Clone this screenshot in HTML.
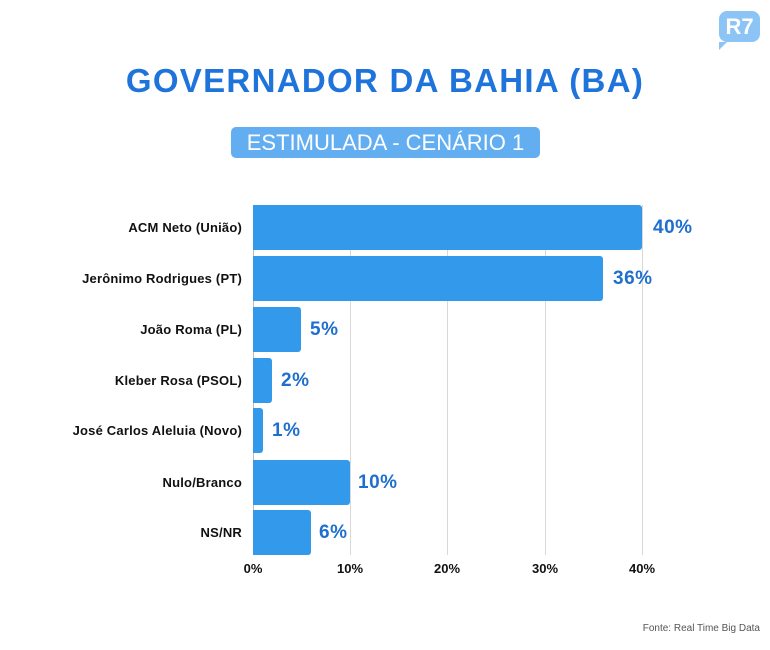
<!DOCTYPE html>
<html><head><meta charset="utf-8"><style>
body{margin:0;width:770px;height:650px;background:#fff;position:relative;overflow:hidden;font-family:"Liberation Sans",sans-serif}
.t{position:absolute;left:0;width:770px;text-align:center;top:62px;font-size:33px;font-weight:bold;color:#1f74dc;letter-spacing:1.3px}
.s{position:absolute;left:231px;top:127px;width:309px;height:31px;background:#62aef0;border-radius:5px;color:#fff;font-size:22px;text-align:center;line-height:31px}
.g{position:absolute;top:205px;height:350px;width:1px;background:#d8d8d8}
.b{position:absolute;left:253px;height:45px;background:#3399eb;border-radius:0 3px 3px 0}
.l{position:absolute;right:528px;font-size:13px;font-weight:bold;color:#111;height:45px;line-height:45px;white-space:nowrap;letter-spacing:0.2px}
.v{position:absolute;font-size:19px;font-weight:bold;color:#1f6fcf;height:45px;line-height:45px;letter-spacing:0.5px}
.x{position:absolute;top:561px;font-size:13px;font-weight:bold;color:#111;width:40px;text-align:center}
.logo{position:absolute;left:719px;top:11px;width:41px;height:31px;background:#8cc5f5;border-radius:8px;color:#fff;font-weight:bold;font-size:22px;text-align:center;line-height:31px}
.logo:after{content:"";position:absolute;left:0;bottom:-8px;border-left:8px solid #8cc5f5;border-bottom:8px solid transparent}
.f{position:absolute;right:10px;top:623px;font-size:10px;color:#555}
</style></head><body>
<div class="logo">R7</div>
<div class="t">GOVERNADOR DA BAHIA (BA)</div>
<div class="s">ESTIMULADA - CENÁRIO 1</div>
<div class="g" style="left:253px;background:#bbb"></div>
<div class="g" style="left:350px"></div>
<div class="g" style="left:447px"></div>
<div class="g" style="left:545px"></div>
<div class="g" style="left:642px"></div>
<div class="b" style="top:205px;width:389px"></div><div class="l" style="top:205px">ACM Neto (União)</div><div class="v" style="top:205px;left:653px">40%</div>
<div class="b" style="top:256px;width:350px"></div><div class="l" style="top:256px">Jerônimo Rodrigues (PT)</div><div class="v" style="top:256px;left:613px">36%</div>
<div class="b" style="top:307px;width:48px"></div><div class="l" style="top:307px">João Roma (PL)</div><div class="v" style="top:307px;left:310px">5%</div>
<div class="b" style="top:358px;width:19px"></div><div class="l" style="top:358px">Kleber Rosa (PSOL)</div><div class="v" style="top:358px;left:281px">2%</div>
<div class="b" style="top:408px;width:10px"></div><div class="l" style="top:408px">José Carlos Aleluia (Novo)</div><div class="v" style="top:408px;left:272px">1%</div>
<div class="b" style="top:460px;width:97px"></div><div class="l" style="top:460px">Nulo/Branco</div><div class="v" style="top:460px;left:358px">10%</div>
<div class="b" style="top:510px;width:58px"></div><div class="l" style="top:510px">NS/NR</div><div class="v" style="top:510px;left:319px">6%</div>
<div class="x" style="left:233px">0%</div>
<div class="x" style="left:330px">10%</div>
<div class="x" style="left:427px">20%</div>
<div class="x" style="left:525px">30%</div>
<div class="x" style="left:622px">40%</div>
<div class="f">Fonte: Real Time Big Data</div>
</body></html>
